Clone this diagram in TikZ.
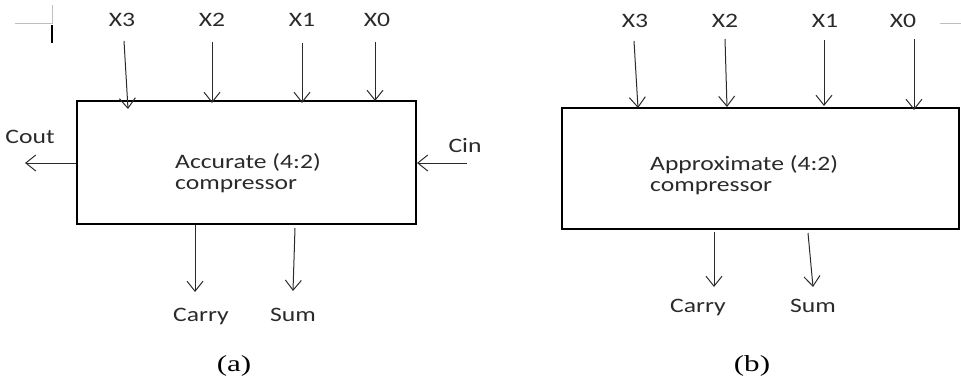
\documentclass[tikz,border=0pt]{standalone}
\usepackage{fontspec}
\usepackage{graphicx}
\usetikzlibrary{arrows.meta}
\newfontfamily\labfont{Carlito}
\newfontfamily\capfont{Liberation Serif}
\newcommand{\lx}[1]{\scalebox{1.25}[1]{#1}}
\newcommand{\cx}[1]{\scalebox{1.35}[1]{#1}}
\definecolor{ink}{HTML}{2A2A2A}
\begin{document}
\begin{tikzpicture}[x=1pt,y=-1pt,
  lab/.style={font=\labfont\fontsize{20.5}{24}\selectfont, text=ink, inner sep=0pt, anchor=base},
  captext/.style={font=\capfont\fontsize{23}{27}\selectfont, text=black, inner sep=0pt},
  blk/.style={draw=black, line width=2pt, inner sep=0pt},
  arr/.style={draw=ink, line width=1pt, -{Straight Barb[length=10pt,width=16pt,line width=1pt]}},
  pagemark/.style={draw=black!25, line width=0.8pt}]
\useasboundingbox (0,0) rectangle (961,385);
% stray page marks
\draw[pagemark] (15,23) -- (52,23) -- (52,5);
\draw[black, line width=2pt] (52,25) -- (52,43);
\draw[pagemark] (940,23) -- (961,23);

% ---- (a) accurate compressor
\node[blk, minimum width=339pt, minimum height=123pt] (boxA) at (246.5,162.5) {};
\node[lab, anchor=base west] (txtA1) at (175,168) {\lx{Accurate (4:2)}};
\node[lab, anchor=base west] (txtA2) at (175,189) {\lx{compressor}};
\node[lab] (ax3) at (122,27) {\lx{X3}};
\node[lab] (ax2) at (212,27) {\lx{X2}};
\node[lab] (ax1) at (302,27) {\lx{X1}};
\node[lab] (ax0) at (377,27) {\lx{X0}};
\coordinate (ax3s) at (124,41);  \coordinate (ax3e) at (128,109);
\coordinate (ax2s) at (212,42);  \coordinate (ax2e) at (212,103);
\coordinate (ax1s) at (302,43);  \coordinate (ax1e) at (302,103);
\coordinate (ax0s) at (375,42);  \coordinate (ax0e) at (375,101);
\draw[arr] (ax3s) -- (ax3e);
\draw[arr] (ax2s) -- (ax2e);
\draw[arr] (ax1s) -- (ax1e);
\draw[arr] (ax0s) -- (ax0e);
\node[lab] (acout) at (30,144) {\lx{Cout}};
\coordinate (acoute) at (25,163);
\draw[arr] (boxA.west |- acoute) -- (acoute);
\node[lab] (acin) at (465,153) {\lx{Cin}};
\coordinate (acins) at (467,163);
\draw[arr] (acins) -- (boxA.east |- acins);
\node[lab] (acarry) at (201,321) {\lx{Carry}};
\node[lab] (asum) at (293,321) {\lx{Sum}};
\coordinate (acs) at (195,225); \coordinate (ace) at (195,292);
\coordinate (ass) at (295,228); \coordinate (ase) at (293,291);
\draw[arr] (acs) -- (ace);
\draw[arr] (ass) -- (ase);
\node[captext] (capa) at (234,366) {\cx{(a)}};

% ---- (b) approximate compressor
\node[blk, minimum width=397pt, minimum height=121pt] (boxB) at (760.5,168.5) {};
\node[lab, anchor=base west] (txtB1) at (650,170) {\lx{Approximate (4:2)}};
\node[lab, anchor=base west] (txtB2) at (650,191) {\lx{compressor}};
\node[lab] (bx3) at (635,28) {\lx{X3}};
\node[lab] (bx2) at (725,28) {\lx{X2}};
\node[lab] (bx1) at (825,28) {\lx{X1}};
\node[lab] (bx0) at (903,28) {\lx{X0}};
\coordinate (bx3s) at (634,41);  \coordinate (bx3e) at (638,108);
\coordinate (bx2s) at (725,39);  \coordinate (bx2e) at (727,107);
\coordinate (bx1s) at (824,40);  \coordinate (bx1e) at (824,106);
\coordinate (bx0s) at (914,39);  \coordinate (bx0e) at (914,110);
\draw[arr] (bx3s) -- (bx3e);
\draw[arr] (bx2s) -- (bx2e);
\draw[arr] (bx1s) -- (bx1e);
\draw[arr] (bx0s) -- (bx0e);
\node[lab] (bcarry) at (698,312) {\lx{Carry}};
\node[lab] (bsum) at (813,312) {\lx{Sum}};
\coordinate (bcs) at (714,232); \coordinate (bce) at (714,287);
\coordinate (bss) at (808,233); \coordinate (bse) at (813,287);
\draw[arr] (bcs) -- (bce);
\draw[arr] (bss) -- (bse);
\node[captext] (capb) at (752,366) {\cx{(b)}};
\end{tikzpicture}
\end{document}
